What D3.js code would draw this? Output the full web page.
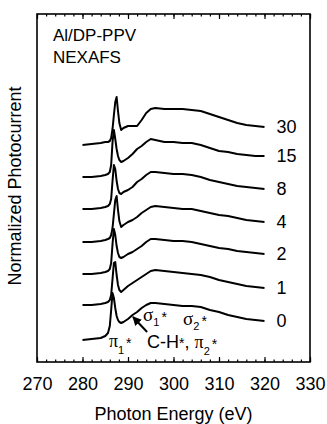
<!DOCTYPE html>
<html>
<head>
<meta charset="utf-8">
<script src="https://cdn.jsdelivr.net/npm/d3@7"></script>
<style>
  html, body { margin: 0; padding: 0; background: #fff; }
  svg { display: block; }
  text { font-family: "Liberation Sans", Arial, Helvetica, sans-serif; fill: #000; }
  .greek { font-family: "Liberation Serif", "DejaVu Serif", serif; }
</style>
</head>
<body>
<svg id="chart" width="327" height="424"></svg>
<script>
// ---- data ----
const energies = [280, 282, 284, 285, 285.6, 286, 286.3, 286.6, 286.9, 287.2,
                  287.5, 287.8, 288.1, 288.5, 289, 290, 291, 292, 293, 294,
                  295, 296, 298, 300, 302, 304, 306, 308, 310, 312,
                  314, 316, 318, 320];
const doses = ["0", "1", "2", "4", "8", "15", "30"];
const offsets = [2.2, 5.7, 8.8, 12.0, 15.3, 18.5, 21.7];
const spectrum0  = [0,.1,.2,.4,.7,1.4,3.0,4.7,4.2,3.2, 2.4,2.0,1.8,1.7,1.8,2.1,2.5,2.8,3.2,3.5, 3.7,3.7,3.6,3.5,3.4,3.4,3.3,3.0,2.8,2.5, 2.3,2.1,2.0,1.9];
const spectrum1  = [0,0,.1,.2,.3,.5,1.0,2.6,4.2,4.3, 3.0,2.0,1.5,1.3,1.5,1.9,2.2,2.5,2.8,3.1, 3.4,3.5,3.4,3.3,3.2,3.1,3.0,2.8,2.5,2.3, 2.1,1.9,1.8,1.7];
const spectrum2  = [0,0,.1,.2,.3,.5,1.1,3.0,4.5,3.9, 2.8,2.1,1.7,1.6,1.7,2.0,2.2,2.5,2.8,3.2, 3.5,3.5,3.4,3.3,3.3,3.2,3.0,2.8,2.6,2.5, 2.3,2.2,2.1,2.0];
const spectrum4  = [0,0,.1,.2,.3,.4,.7,1.4,2.8,4.2, 4.6,3.2,2.1,1.5,1.7,2.0,2.2,2.5,2.9,3.2, 3.5,3.6,3.5,3.4,3.3,3.3,3.1,2.9,2.7,2.6, 2.4,2.2,2.1,2.0];
const spectrum8  = [0,0,.1,.2,.3,.5,1.0,2.8,4.4,4.0, 2.8,2.0,1.6,1.5,1.7,1.9,2.2,2.7,3.0,3.4, 3.7,3.7,3.6,3.5,3.5,3.4,3.2,2.9,2.7,2.5, 2.3,2.2,2.1,2.0];
const spectrum15 = [0,0,.1,.2,.3,.5,1.2,3.5,4.7,3.8, 2.8,2.1,1.7,1.5,1.6,1.9,2.3,2.8,3.1,3.5, 3.8,3.7,3.5,3.5,3.4,3.4,3.2,2.9,2.6,2.5, 2.3,2.2,2.1,2.1];
const spectrum30 = [0,.1,.2,.3,.3,.4,.7,1.6,3.0,4.3, 4.8,3.4,2.2,1.5,1.7,1.9,1.9,1.9,2.5,3.2, 3.6,3.7,3.6,3.6,3.6,3.5,3.4,3.1,2.8,2.5, 2.2,2.0,1.9,1.8];
const spectra = [spectrum0, spectrum1, spectrum2, spectrum4, spectrum8, spectrum15, spectrum30];
const xTicks = [270, 280, 290, 300, 310, 320, 330];
const xMinorTicks = d3.range(270, 331, 2);

// ---- layout ----
const W = 327, H = 424;
const margin = {left: 37, right: 17, top: 14, bottom: 62};
const x = d3.scaleLinear().domain([270, 330]).range([margin.left, W - margin.right]);
const y = d3.scaleLinear().domain([0, 34.8]).range([H - margin.bottom, margin.top]);

const svg = d3.select("#chart");
svg.append("rect").attr("width", W).attr("height", H).attr("fill", "#fff");

const defs = svg.append("defs");
defs.append("marker").attr("id", "ah").attr("viewBox", "0 0 10 10")
  .attr("refX", 9).attr("refY", 5).attr("markerWidth", 9).attr("markerHeight", 9)
  .attr("markerUnits", "userSpaceOnUse").attr("orient", "auto")
  .append("path").attr("d", "M0,0 L10,5 L0,10 Z").attr("fill", "#000");

// ticks
function styleAxis(g) {
  g.select(".domain").remove();
  g.selectAll(".tick line").attr("stroke", "#000").attr("stroke-width", 1.2);
}
const yB = H - margin.bottom, yT = margin.top;
svg.append("g").attr("transform", `translate(0,${yB})`)
  .call(d3.axisBottom(x).tickValues(xMinorTicks).tickSize(-2.5).tickFormat("")).call(styleAxis);
svg.append("g").attr("transform", `translate(0,${yB})`)
  .call(d3.axisBottom(x).tickValues(xTicks).tickSize(-5).tickFormat("")).call(styleAxis);
svg.append("g").attr("transform", `translate(0,${yT})`)
  .call(d3.axisTop(x).tickValues(xMinorTicks).tickSize(-2.5).tickFormat("")).call(styleAxis);
svg.append("g").attr("transform", `translate(0,${yT})`)
  .call(d3.axisTop(x).tickValues(xTicks).tickSize(-5).tickFormat("")).call(styleAxis);
const lab = svg.append("g").attr("transform", `translate(0,${yB})`)
  .call(d3.axisBottom(x).tickValues(xTicks).tickSize(0).tickPadding(15).tickFormat(d3.format("d")));
lab.select(".domain").remove();
lab.selectAll("text").attr("font-size", 18).attr("font-family", "Liberation Sans, Arial, sans-serif");

// frame
svg.append("rect").attr("x", margin.left).attr("y", margin.top)
  .attr("width", W - margin.left - margin.right).attr("height", H - margin.top - margin.bottom)
  .attr("fill", "none").attr("stroke", "#000").attr("stroke-width", 1.6);

// curves
const line = d3.line().x(d => x(d[0])).y(d => y(d[1])).curve(d3.curveLinear);
spectra.forEach((s, i) => {
  const pts = energies.map((e, j) => [e, s[j] + offsets[i]]);
  svg.append("path").datum(pts).attr("d", line)
    .attr("fill", "none").attr("stroke", "#000").attr("stroke-width", 2)
    .attr("stroke-linejoin", "round");
  svg.append("text").attr("x", x(320) + 12).attr("y", y(pts[pts.length - 1][1]))
    .attr("dy", "0.35em").attr("font-size", 18).text(doses[i]);
});

// titles
svg.append("text").attr("x", (x(270) + x(330)) / 2).attr("y", 420)
  .attr("text-anchor", "middle").attr("font-size", 18).text("Photon Energy (eV)");
svg.append("text").attr("transform", `translate(21,${(yB + yT) / 2 - 2}) rotate(-90)`)
  .attr("text-anchor", "middle").attr("font-size", 18).text("Normalized Photocurrent");

svg.append("text").attr("x", x(273.5)).attr("y", y(32.1)).attr("font-size", 17).text("Al/DP-PPV");
svg.append("text").attr("x", x(273.5)).attr("y", y(29.9)).attr("font-size", 17).text("NEXAFS");

// annotations: greek label with subscript and star
function greekLabel(x0, y0, letter, sub, fs, subDy) {
  const g = svg.append("g");
  const t = g.append("text").attr("class", "greek").attr("x", x0).attr("y", y0).attr("font-size", fs).text(letter);
  const w = t.node().getComputedTextLength();
  const s = g.append("text").attr("x", x0 + w).attr("y", y0 + subDy).attr("font-size", 11).text(sub);
  const ws = s.node().getComputedTextLength();
  g.append("text").attr("x", x0 + w + ws + 2).attr("y", y0 + 1).attr("font-size", 14).text("*");
}
greekLabel(x(285.8), y(1.5), "π", "1", 18, 7);
greekLabel(x(293.3), y(4.1), "σ", "1", 19, 5);
greekLabel(x(302.1), y(3.7), "σ", "2", 19, 5);

const ch = svg.append("text").attr("x", x(294.2)).attr("y", y(1.4)).attr("font-size", 18);
ch.append("tspan").text("C-H");
ch.append("tspan").attr("font-size", 14).text("*");
ch.append("tspan").text(",");
const chEnd = x(294.2) + ch.node().getComputedTextLength();
greekLabel(chEnd + 5, y(1.4), "π", "2", 18, 7);

// arrow
svg.append("line").attr("x1", x(294.2)).attr("y1", y(3.0)).attr("x2", x(291.1)).attr("y2", y(4.5))
  .attr("stroke", "#000").attr("stroke-width", 2).attr("marker-end", "url(#ah)");
</script>
</body>
</html>
